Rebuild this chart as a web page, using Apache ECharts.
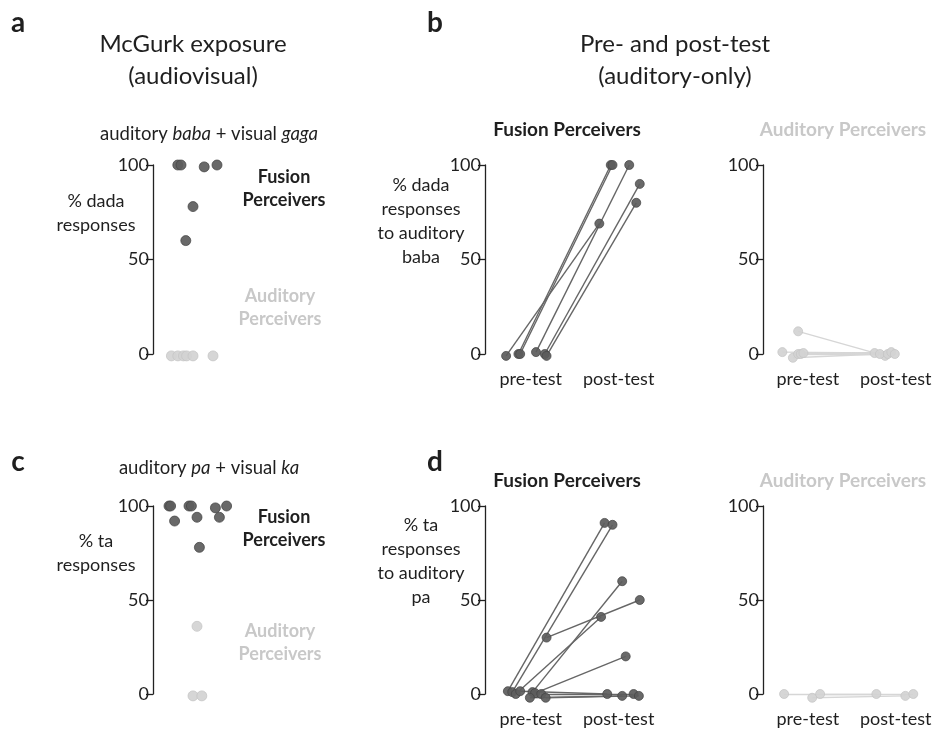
<!DOCTYPE html>
<html style="height: 100%">
<head>
    <meta charset="utf-8">
</head>
<body style="height: 100%; margin: 0; background: #fff">
    <div id="container" style="width: 944px; height: 746px"></div>
    <script type="text/javascript" src="https://cdn.jsdelivr.net/npm/echarts@6/dist/echarts.min.js"></script>
    <script type="text/javascript">
        // panel a / c: [jitter x, % response]
        var aFusion = [[3.1, 100], [3.5, 100], [6.4, 99], [8.0, 100], [5.0, 78], [4.1, 60]];
        var aAuditory = [[2.3, -1], [3.1, -1], [3.8, -1], [4.2, -1], [5.0, -1], [7.5, -1]];
        var cFusion = [[2.0, 100], [2.2, 100], [4.5, 100], [4.8, 100], [7.8, 99], [9.2, 100],
                       [2.7, 92], [5.5, 94], [8.3, 94], [5.8, 78]];
        var cAuditory = [[5.5, 36], [5.0, -1], [6.1, -1]];

        // panel b / d: [pre x, pre %, post x, post %]  (pre-test at 1, post-test at 2)
        var bFusion = [[0.72, -1, 1.78, 69], [0.86, 0, 1.91, 100], [0.88, 0, 1.93, 100],
                       [1.06, 1, 2.12, 100], [1.16, 0, 2.24, 90], [1.18, -1, 2.20, 80]];
        var bAuditory = [[0.89, 12, 1.88, -1], [0.71, 1, 1.76, 0.5], [0.83, -2, 1.82, 0],
                         [0.89, 0, 1.91, 0], [0.92, 0, 1.95, 1], [0.95, 0.5, 1.99, 0]];
        var dFusion = [[0.74, 1.5, 1.84, 91], [0.79, 1, 1.93, 90], [1.18, 30, 2.24, 50],
                       [0.83, 0, 1.80, 41], [1.02, 1, 2.04, 60], [1.05, 0.5, 2.08, 20],
                       [0.88, 1.5, 1.87, 0], [0.99, -2, 2.04, -1], [1.12, 0, 2.17, 0],
                       [1.17, -2, 2.23, -1]];
        var dAuditory = [[0.73, 0, 1.78, 0], [1.05, -2, 2.11, -1], [1.14, 0, 2.20, 0]];

        var testLabels = ['pre-test', 'post-test'];
        var yTicks = [0, 50, 100];

        var FONT = 'Lato, "Open Sans", sans-serif';
        var DARK = '#5c5c5c';
        var LIGHT = '#d2d2d2';
        var TXT = '#1f1f1f';
        var TXT_LIGHT = '#c8c8c8';

        var dom = document.getElementById('container');
        var myChart = echarts.init(dom);

        var grids = [
            { left: 153, top: 165, width: 80, height: 189 },
            { left: 485, top: 165, width: 175, height: 189 },
            { left: 763, top: 165, width: 174, height: 189 },
            { left: 153, top: 506, width: 80, height: 188 },
            { left: 485, top: 506, width: 175, height: 188 },
            { left: 763, top: 506, width: 174, height: 188 }
        ];
        var xRange = [null, [0.48, 2.47], [0.49, 2.47], null, [0.48, 2.47], [0.49, 2.47]];

        var xAxes = grids.map(function (g, i) {
            if (!xRange[i]) {
                return { gridIndex: i, type: 'value', min: 0, max: 10, show: false };
            }
            return {
                gridIndex: i, type: 'value', min: xRange[i][0], max: xRange[i][1],
                axisLine: { show: false }, axisTick: { show: false }, splitLine: { show: false },
                axisLabel: {
                    customValues: [1, 2],
                    formatter: function (v) { return testLabels[Math.round(v) - 1]; },
                    fontSize: 18, color: TXT, fontFamily: FONT, margin: 16
                }
            };
        });

        var yAxes = grids.map(function (g, i) {
            return {
                gridIndex: i, type: 'value', min: yTicks[0], max: yTicks[2], interval: 50,
                axisLine: { show: true, lineStyle: { color: '#222', width: 1.3 } },
                axisTick: { show: true, length: 7, lineStyle: { color: '#222', width: 1.3 } },
                axisLabel: { fontSize: 18, color: TXT, fontFamily: FONT, margin: 4 },
                splitLine: { show: false }
            };
        });

        function dots(idx, data, color, size) {
            return {
                type: 'scatter', xAxisIndex: idx, yAxisIndex: idx, data: data, clip: false,
                symbolSize: size, z: 5,
                itemStyle: { color: color, opacity: 0.92, borderColor: color === DARK ? '#444' : '#c4c4c4', borderWidth: 0.8 }
            };
        }

        function pairs(idx, rows, color, lineColor) {
            var list = [];
            list.push({
                type: 'lines', coordinateSystem: 'cartesian2d', xAxisIndex: idx, yAxisIndex: idx,
                clip: false, silent: true, z: 3,
                lineStyle: { color: lineColor, width: 1.4, opacity: 1 },
                data: rows.map(function (r) { return { coords: [[r[0], r[1]], [r[2], r[3]]] }; })
            });
            var pts = [];
            rows.forEach(function (r) { pts.push([r[0], r[1]]); pts.push([r[2], r[3]]); });
            list.push(dots(idx, pts, color, 9));
            return list;
        }

        var series = [
            dots(0, aFusion, DARK, 10),
            dots(0, aAuditory, LIGHT, 10),
            dots(3, cFusion, DARK, 10),
            dots(3, cAuditory, LIGHT, 10)
        ].concat(
            pairs(1, bFusion, DARK, '#666'),
            pairs(2, bAuditory, LIGHT, '#d6d6d6'),
            pairs(4, dFusion, DARK, '#666'),
            pairs(5, dAuditory, LIGHT, '#d6d6d6')
        );

        function txt(x, y, text, size, opts) {
            opts = opts || {};
            return {
                type: 'text', x: x, y: y, z: 10,
                style: {
                    text: text, fontSize: size, fontFamily: FONT,
                    fontWeight: opts.bold ? 'bold' : 'normal',
                    fill: opts.color || TXT, align: 'center', verticalAlign: 'middle',
                    lineHeight: opts.lh || size * 1.2,
                    rich: opts.rich
                }
            };
        }

        var italic = { i: { fontStyle: 'italic', fontSize: 18.5, fontFamily: FONT, fill: TXT } };

        var graphics = [
            txt(18, 23, 'a', 28, { bold: true }),
            txt(435, 23, 'b', 28, { bold: true }),
            txt(18, 462, 'c', 28, { bold: true }),
            txt(435, 462, 'd', 28, { bold: true }),
            txt(193, 60, 'McGurk exposure\n(audiovisual)', 24, { lh: 32 }),
            txt(675, 60, 'Pre- and post-test\n(auditory-only)', 24, { lh: 32 }),
            txt(209, 134, 'auditory {i|baba} + visual {i|gaga}', 18.5, { rich: italic }),
            txt(209, 468, 'auditory {i|pa} + visual {i|ka}', 18.5, { rich: italic }),
            txt(96, 213, '% dada\nresponses', 18, { lh: 24 }),
            txt(96, 553, '% ta\nresponses', 18, { lh: 24 }),
            txt(284, 189, 'Fusion\nPerceivers', 18, { bold: true, lh: 23 }),
            txt(280, 308, 'Auditory\nPerceivers', 18, { bold: true, lh: 23, color: TXT_LIGHT }),
            txt(284, 529, 'Fusion\nPerceivers', 18, { bold: true, lh: 23 }),
            txt(280, 643, 'Auditory\nPerceivers', 18, { bold: true, lh: 23, color: TXT_LIGHT }),
            txt(567, 130, 'Fusion Perceivers', 19, { bold: true }),
            txt(843, 130, 'Auditory Perceivers', 19, { bold: true, color: TXT_LIGHT }),
            txt(567, 481, 'Fusion Perceivers', 19, { bold: true }),
            txt(843, 481, 'Auditory Perceivers', 19, { bold: true, color: TXT_LIGHT }),
            txt(421, 221, '% dada\nresponses\nto auditory\nbaba', 18, { lh: 24 }),
            txt(421, 561, '% ta\nresponses\nto auditory\npa', 18, { lh: 24 })
        ];

        var option = {
            backgroundColor: '#fff',
            animation: false,
            grid: grids,
            xAxis: xAxes,
            yAxis: yAxes,
            series: series,
            graphic: graphics
        };

        myChart.setOption(option);
    </script>
</body>
</html>
